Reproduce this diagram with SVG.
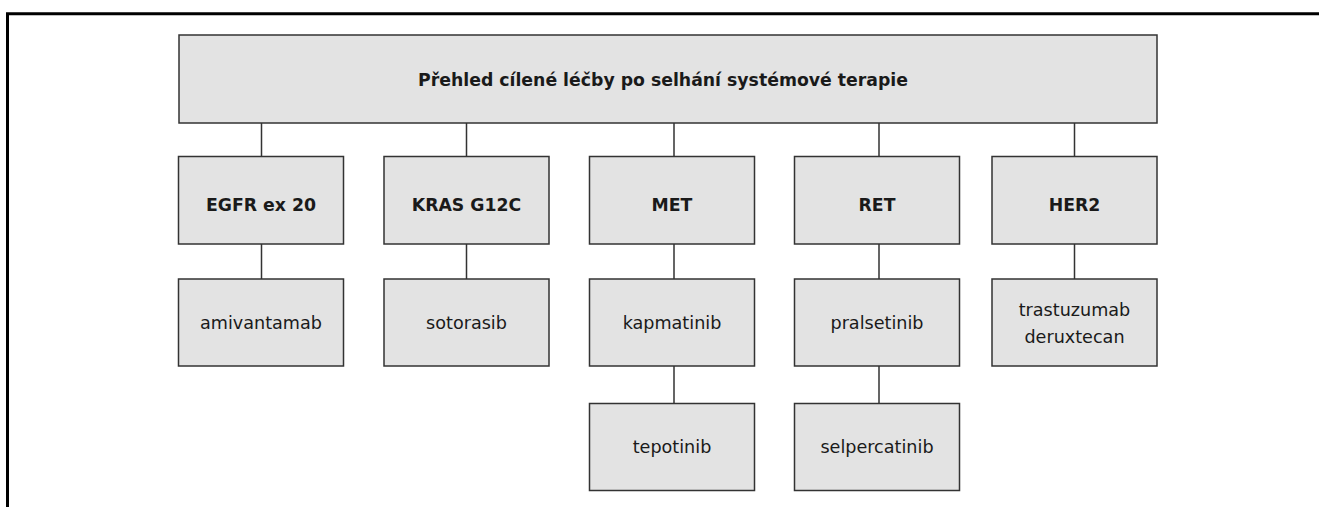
<svg xmlns="http://www.w3.org/2000/svg" width="1319" height="507" viewBox="0 0 1319 507">
<style>
.box{fill:#e3e3e3;stroke:#333;stroke-width:1.5}
.t{font-family:"DejaVu Sans","Liberation Sans",sans-serif;font-size:17.6px;fill:#1a1a1a;text-anchor:middle}
.b{font-weight:bold;font-size:17.3px}
.c{stroke:#333;stroke-width:1.5;fill:none}
</style>
<rect width="1319" height="507" fill="#fff"/>
<path d="M7.5 507 V13.8 H1319" fill="none" stroke="#000" stroke-width="3"/>
<g id="connectors">
<path class="c" d="M261.5 123 V156 M466.5 123 V156 M674 123 V156 M879 123 V156 M1074.5 123 V156"/>
<path class="c" d="M261.5 244 V279 M466.5 244 V279 M674 244 V279 M879 244 V279 M1074.5 244 V279"/>
<path class="c" d="M674 366 V403 M879 366 V403"/>
</g>
<g id="root"><rect class="box" x="179" y="35" width="978" height="88"/><text class="t b" x="663" y="86">Přehled cílené léčby po selhání systémové terapie</text></g>
<g id="egfr"><rect class="box" x="178.5" y="156.5" width="165" height="87.5"/><text class="t b" x="261" y="210.5">EGFR ex 20</text></g>
<g id="kras"><rect class="box" x="384" y="156.5" width="165" height="87.5"/><text class="t b" x="466.5" y="210.5">KRAS G12C</text></g>
<g id="met"><rect class="box" x="589.5" y="156.5" width="165" height="87.5"/><text class="t b" x="672" y="210.5">MET</text></g>
<g id="ret"><rect class="box" x="794.5" y="156.5" width="165" height="87.5"/><text class="t b" x="877" y="210.5">RET</text></g>
<g id="her2"><rect class="box" x="992" y="156.5" width="165" height="87.5"/><text class="t b" x="1074.5" y="210.5">HER2</text></g>
<g id="amivantamab"><rect class="box" x="178.5" y="279" width="165" height="87"/><text class="t" x="261" y="329">amivantamab</text></g>
<g id="sotorasib"><rect class="box" x="384" y="279" width="165" height="87"/><text class="t" x="466.5" y="329">sotorasib</text></g>
<g id="kapmatinib"><rect class="box" x="589.5" y="279" width="165" height="87"/><text class="t" x="672" y="329">kapmatinib</text></g>
<g id="pralsetinib"><rect class="box" x="794.5" y="279" width="165" height="87"/><text class="t" x="877" y="329">pralsetinib</text></g>
<g id="trastuzumab"><rect class="box" x="992" y="279" width="165" height="87"/><text class="t" x="1074.5" y="316">trastuzumab</text><text class="t" x="1074.5" y="343">deruxtecan</text></g>
<g id="tepotinib"><rect class="box" x="589.5" y="403.5" width="165" height="87"/><text class="t" x="672" y="452.5">tepotinib</text></g>
<g id="selpercatinib"><rect class="box" x="794.5" y="403.5" width="165" height="87"/><text class="t" x="877" y="452.5">selpercatinib</text></g>
</svg>
